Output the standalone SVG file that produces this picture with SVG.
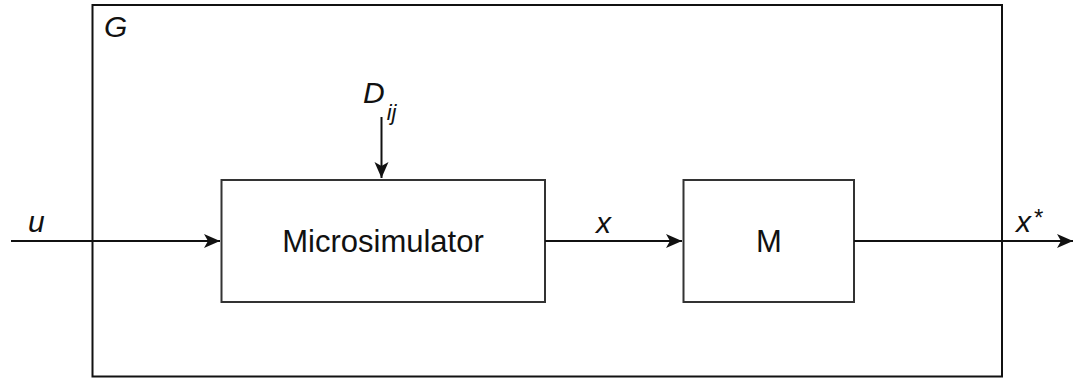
<svg xmlns="http://www.w3.org/2000/svg" width="1073" height="381" viewBox="0 0 1073 381">
<style>
.box{fill:#fff;stroke:#333;stroke-width:2}
.outer{fill:none;stroke:#111;stroke-width:2}
.conn{fill:none;stroke:#111;stroke-width:2}
.lbl{font-family:"Liberation Sans",Arial,sans-serif;font-style:italic;font-size:30px;fill:#111}
.txt{font-family:"Liberation Sans",Arial,sans-serif;font-size:31px;fill:#111;text-anchor:middle}
</style>
<defs>
<marker id="arr" markerUnits="userSpaceOnUse" markerWidth="18" markerHeight="18" viewBox="0 0 18 18" refX="17" refY="9" orient="auto">
<path d="M1,2 L17,9 L1,16 L5,9 Z" fill="#111"/>
</marker>
</defs>
<rect width="1073" height="381" fill="#fff"/>
<g id="G">
<rect class="outer" x="92.5" y="5" width="909.5" height="371.5"/>
<text class="lbl" x="104" y="37">G</text>
</g>
<g id="microsimulator">
<rect class="box" x="221.5" y="180" width="323.5" height="122"/>
<text class="txt" x="383" y="252">Microsimulator</text>
</g>
<g id="M">
<rect class="box" x="683.5" y="180" width="170.5" height="122"/>
<text class="txt" x="769" y="252">M</text>
</g>
<g id="connectors">
<line class="conn" x1="11" y1="241" x2="220" y2="241" marker-end="url(#arr)"/>
<line class="conn" x1="545" y1="241" x2="682" y2="241" marker-end="url(#arr)"/>
<line class="conn" x1="854" y1="241" x2="1073" y2="241" marker-end="url(#arr)"/>
<line class="conn" x1="381.5" y1="117" x2="381.5" y2="178" marker-end="url(#arr)"/>
</g>
<g id="labels">
<text class="lbl" x="28" y="232">u</text>
<text class="lbl" x="596" y="233">x</text>
<text class="lbl" x="1016" y="232">x<tspan dx="2" dy="-6" font-size="24">*</tspan></text>
<text class="lbl" x="363" y="103">D<tspan dx="2" dy="17" font-size="22">ij</tspan></text>
</g>
</svg>
